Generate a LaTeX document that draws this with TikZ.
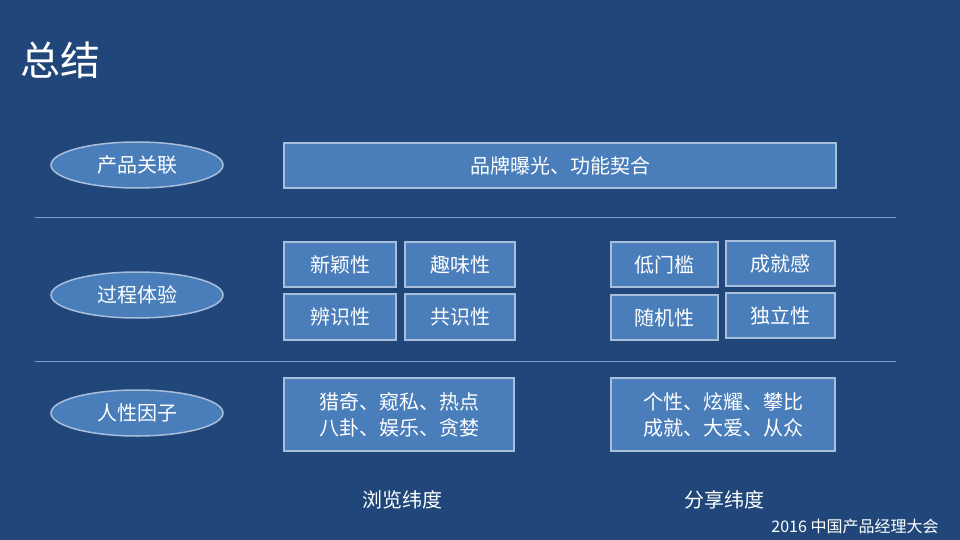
\documentclass[tikz,border=0pt]{standalone}
\usepackage{fontspec}
\setmainfont{Noto Sans CJK SC}
\usetikzlibrary{shapes.geometric}
\definecolor{bg}{HTML}{21477A}
\definecolor{boxf}{HTML}{4A7EBB}
\definecolor{boxd}{HTML}{A9BEDA}
\definecolor{sep}{HTML}{7F9CC4}
\begin{document}
\begin{tikzpicture}[x=1pt,y=-1pt,
 bx/.style={draw=boxd,line width=1.5pt,fill=boxf,text=white,font=\fontsize{20}{26}\selectfont,align=center,inner sep=0pt},
 el/.style={ellipse,draw=boxd,line width=1.5pt,fill=boxf,text=white,font=\fontsize{20}{24}\selectfont,minimum width=172pt,minimum height=46pt,inner sep=0pt},
 lbl/.style={text=white,font=\fontsize{20}{24}\selectfont,inner sep=0pt}]
\fill[bg] (0,0) rectangle (960,540);
\useasboundingbox (0,0) rectangle (960,540);
\node[text=white,font=\fontsize{40}{44}\selectfont,anchor=west,inner sep=0pt] (title) at (20,60) {总结};
\node[el] (e1) at (137,165) {产品关联};
\node[el] (e2) at (137,295) {过程体验};
\node[el] (e3) at (137,413) {人性因子};
\coordinate (l1a) at (35,217); \coordinate (l1b) at (896,217);
\coordinate (l2a) at (35,361); \coordinate (l2b) at (896,361);
\draw[sep,line width=0.8pt] (l1a) -- (l1b);
\draw[sep,line width=0.8pt] (l2a) -- (l2b);
\newcommand{\bxat}[6]{\node[bx,minimum width=#4-#2,minimum height=#5-#3] (#1) at ({(#2+#4)/2},{(#3+#5)/2}) {#6};}
\bxat{b0}{284}{143}{836}{188}{品牌曝光、功能契合}
\bxat{b1}{284}{242}{396}{287}{新颖性}
\bxat{b2}{405}{242}{515}{287}{趣味性}
\bxat{b3}{284}{294}{396}{340}{辨识性}
\bxat{b4}{405}{294}{515}{340}{共识性}
\bxat{b5}{611}{242}{718}{287}{低门槛}
\bxat{b6}{726}{241}{835}{286}{成就感}
\bxat{b7}{611}{295}{718}{340}{随机性}
\bxat{b8}{726}{293}{835}{338}{独立性}
\bxat{b9}{284}{378}{514}{451}{猎奇、窥私、热点\\八卦、娱乐、贪婪}
\bxat{b10}{611}{378}{835}{451}{个性、炫耀、攀比\\成就、大爱、从众}
\node[lbl] (t1) at (402,500) {浏览纬度};
\node[lbl] (t2) at (724,500) {分享纬度};
\node[text=white,font=\fontsize{16}{18}\selectfont,inner sep=0pt] (ft) at (855,526) {2016 中国产品经理大会};
\end{tikzpicture}
\end{document}
